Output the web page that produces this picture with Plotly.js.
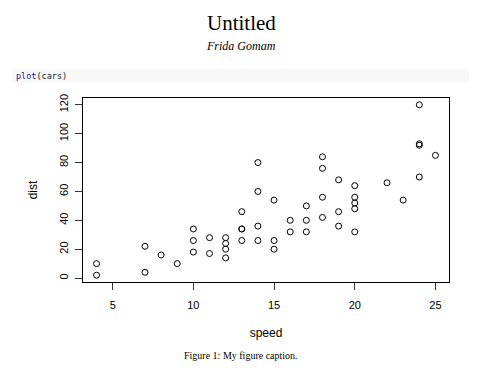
<!DOCTYPE html>
<html>
<head>
<meta charset="utf-8">
<script src="https://cdn.plot.ly/plotly-3.0.1.min.js"></script>
<style>html,body{margin:0;padding:0;background:#fff;}#chart{width:483px;height:383px;}</style>
</head>
<body>
<div id="chart"></div>
<script>
// R "cars" dataset
const speed = [4,4,7,7,8,9,10,10,10,11,11,12,12,12,12,13,13,13,13,14,14,14,14,15,15,15,16,16,17,17,17,18,18,18,18,19,19,19,20,20,20,20,20,22,23,24,24,24,24,25];
const dist  = [2,10,4,22,16,10,18,26,34,17,28,14,20,24,28,26,34,34,46,26,36,60,80,20,26,54,32,40,32,40,50,42,56,76,84,36,46,68,32,48,52,56,64,66,54,70,92,93,120,85];
const xTicks = [5,10,15,20,25];
const yTicks = [0,20,40,60,80,100,120];

const W = 483, H = 383;
const L = 83, R = 449.5, T = 97.5, B = 282.5;
const px = v => (v - L) / (R - L);
const py = v => 1 - (v - T) / (B - T);

const trace = {
  x: speed, y: dist, type: 'scatter', mode: 'markers',
  marker: {symbol: 'circle-open', size: 6, color: '#000', line: {width: 1, color: '#000'}},
  hoverinfo: 'skip'
};

const tickFont = {family: 'Liberation Sans, Arial, sans-serif', size: 11, color: '#000'};
const titleFont = {family: 'Liberation Sans, Arial, sans-serif', size: 12, color: '#000'};

const layout = {
  width: W, height: H,
  margin: {l: L, r: W - R, t: T, b: H - B, pad: 0},
  paper_bgcolor: '#fff', plot_bgcolor: '#fff',
  showlegend: false,
  xaxis: {
    range: [3.16, 25.84], tickvals: xTicks, ticktext: xTicks.map(String),
    ticks: 'outside', ticklen: 7, tickwidth: 1, tickcolor: '#333', ticklabelstandoff: 6,
    showline: true, mirror: true, linecolor: '#000', linewidth: 1,
    showgrid: false, zeroline: false, tickfont: tickFont,
    title: {text: 'speed', font: titleFont, standoff: 18}
  },
  yaxis: {
    range: [-2.72, 124.72], tickvals: yTicks, ticktext: yTicks.map(String),
    ticks: 'outside', ticklen: 7, tickwidth: 1, tickcolor: '#333', tickangle: -90, ticklabelstandoff: 3,
    showline: true, mirror: true, linecolor: '#000', linewidth: 1,
    showgrid: false, zeroline: false, tickfont: tickFont,
    title: {text: 'dist', font: titleFont, standoff: 17}
  },
  shapes: [{
    type: 'rect', xref: 'paper', yref: 'paper', layer: 'below',
    x0: px(12), x1: px(470), y0: py(82), y1: py(68),
    fillcolor: '#f8f8f8', line: {width: 0}
  }],
  annotations: [
    {text: 'Untitled', xref: 'paper', yref: 'paper', x: px(241.5), y: py(22), xanchor: 'center', yanchor: 'middle', showarrow: false,
     font: {family: 'Liberation Serif, serif', size: 21, color: '#000'}},
    {text: '<i>Frida Gomam</i>', xref: 'paper', yref: 'paper', x: px(241.5), y: py(45), xanchor: 'center', yanchor: 'middle', showarrow: false,
     font: {family: 'Liberation Serif, serif', size: 12, color: '#000'}},
    {text: '<span style="color:#1a1a80">plot</span>(cars)', xref: 'paper', yref: 'paper', x: px(14), y: py(75), xanchor: 'left', yanchor: 'middle', showarrow: false,
     font: {family: 'DejaVu Sans Mono, Liberation Mono, monospace', size: 8.5, color: '#222'}},
    {text: 'Figure 1: My figure caption.', xref: 'paper', yref: 'paper', x: px(241.5), y: py(356), xanchor: 'center', yanchor: 'middle', showarrow: false,
     font: {family: 'Liberation Serif, serif', size: 10, color: '#000'}}
  ]
};

Plotly.newPlot('chart', [trace], layout, {staticPlot: true, displayModeBar: false});
</script>
</body>
</html>
